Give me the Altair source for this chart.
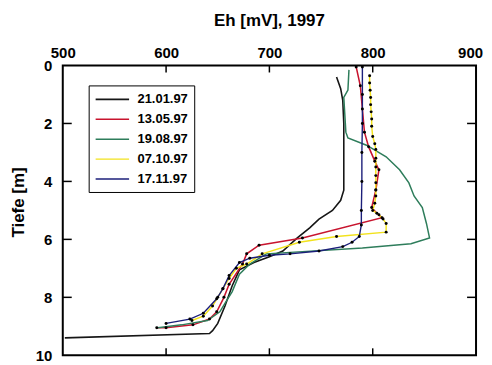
import altair as alt
import pandas as pd

# ---- data ----
dates = ["21.01.97", "13.05.97", "19.08.97", "07.10.97", "17.11.97"]
colors = ["#161616", "#c8142e", "#2e7d5b", "#f2e21c", "#1c1f7a"]
widths = [1.6, 1.4, 1.4, 3.0, 1.4]

x_ticks = [500, 600, 700, 800, 900]
y_ticks = [0, 2, 4, 6, 8, 10]
inner_x_ticks = [600, 700, 800]
inner_y_ticks = [2, 4, 6, 8]

black_depth = [0.4, 0.8, 1.2, 2.0, 3.0, 4.3, 4.65, 5.0, 5.3, 5.6, 5.95, 6.4, 6.6, 6.8, 7.05, 7.6, 8.3, 8.9, 9.15, 9.25, 9.4]
black_eh = [765, 769, 771, 772, 772, 772, 769, 761, 748, 739, 727, 713, 700, 685, 671, 664, 657, 650, 645, 642, 502]

red_depth = [0.05, 0.7, 1.5, 2.3, 2.8, 3.3, 3.6, 4.3, 4.9, 5.1, 5.25, 5.95, 6.2, 6.5, 6.85, 7.55, 8.0, 8.5, 8.75, 8.95, 9.05, 9.05]
red_eh = [784, 788, 790, 792, 796, 802, 806, 803, 799, 804, 809, 732, 690, 678, 674, 661, 656, 649, 642, 626, 600, 591]

green_depth = [0.15, 0.85, 1.1, 2.3, 2.5, 2.75, 3.15, 3.6, 4.05, 4.5, 4.9, 5.45, 5.95, 6.15, 6.3, 6.5, 6.85, 7.2, 7.8, 8.15, 8.5, 8.8, 8.95, 9.05]
green_eh = [777, 776, 772, 774, 776, 794, 813, 826, 835, 840, 848, 852, 855, 837, 790, 697, 681, 671, 664, 658, 652, 640, 615, 592]

yellow_depth = [0.35, 0.6, 0.85, 1.1, 1.35, 1.6, 1.85, 2.1, 2.45, 2.7, 2.9, 3.2, 3.5, 3.8, 4.05, 4.3, 4.5, 4.75, 5.0, 5.15, 5.3, 5.45, 5.75, 5.9, 6.1, 6.5, 6.85, 7.0, 7.35, 7.7, 8.0, 8.3, 8.65, 8.8]
yellow_eh = [797, 797, 797.5, 798, 798, 798.5, 799, 799, 800, 802, 803, 803, 803, 803, 803, 803, 803, 802, 800, 806, 810, 813, 813, 765, 729, 693, 678, 668, 661, 655, 650, 645, 636, 625]

navy_depth = [0.05, 1.0, 2.0, 3.0, 4.0, 5.0, 5.5, 5.9, 6.1, 6.25, 6.4, 6.5, 6.55, 6.65, 6.8, 7.25, 7.7, 8.05, 8.55, 8.75, 8.9]
navy_eh = [790, 790, 790, 789.5, 789.5, 789, 789, 787, 780, 771, 748, 720, 700, 681, 671, 661, 655, 649, 636, 623, 600]

dotted = ["13.05.97", "07.10.97", "17.11.97"]

series = [
    (dates[0], black_depth, black_eh),
    (dates[1], red_depth, red_eh),
    (dates[2], green_depth, green_eh),
    (dates[3], yellow_depth, yellow_eh),
    (dates[4], navy_depth, navy_eh),
]
rows = []
for name, ds, vs in series:
    for i, (d, v) in enumerate(zip(ds, vs)):
        rows.append({"date": name, "depth": d, "eh": v, "i": i})
df = pd.DataFrame(rows)

W, H = 415, 291
FONT = "Liberation Sans"

xscale = alt.Scale(domain=[500, 900], nice=False, zero=False)
yscale = alt.Scale(domain=[0, 10], reverse=True, nice=False, zero=False)

xaxis = alt.Axis(orient="top", values=x_ticks, title=None, ticks=False,
                 domain=False, grid=False, labelFontSize=15,
                 labelFontWeight="bold", labelFont=FONT, labelPadding=5,
                 labelFlush=False, labelColor="black", format="d",
                 labelOffset={"expr": "datum.value == 900 ? -6 : 0"})
yaxis = alt.Axis(orient="left", values=y_ticks, title="Tiefe [m]",
                 ticks=False, domain=False, grid=False, labelFontSize=15,
                 labelFontWeight="bold", labelFont=FONT, labelPadding=11,
                 labelFlush=False, labelColor="black", format="d",
                 titleFontSize=17, titleFont=FONT, titleFontWeight="bold",
                 titleColor="black", titleX=-35, titleY=137)

lines = alt.Chart(df).mark_line(clip=True).encode(
    x=alt.X("eh:Q", scale=xscale, axis=xaxis),
    y=alt.Y("depth:Q", scale=yscale, axis=yaxis),
    color=alt.Color("date:N", scale=alt.Scale(domain=dates, range=colors),
                    legend=alt.Legend(title=None, orient="none", legendX=26, legendY=20,
                                      strokeColor="black", fillColor="white",
                                      padding=6, labelFontSize=13,
                                      labelFontWeight="bold", labelFont=FONT,
                                      labelColor="black", columnPadding=0,
                                      symbolType="M-1,0H3.8", symbolSize=196,
                                      symbolStrokeWidth=1.6, rowPadding=5,
                                      labelOffset=27)),
    strokeWidth=alt.StrokeWidth("date:N", scale=alt.Scale(domain=dates, range=widths),
                                legend=None),
    order=alt.Order("i:Q"),
)

dots = alt.Chart(df).transform_filter(
    alt.FieldOneOfPredicate(field="date", oneOf=dotted)
).mark_circle(color="black", size=9, opacity=1).encode(
    x=alt.X("eh:Q", scale=xscale, axis=xaxis),
    y=alt.Y("depth:Q", scale=yscale, axis=yaxis),
)

xt = pd.DataFrame({"eh": inner_x_ticks})
yt = pd.DataFrame({"depth": inner_y_ticks})

top_ticks = alt.Chart(xt).mark_rule(color="black", strokeWidth=1.5).encode(
    x=alt.X("eh:Q", scale=xscale, axis=xaxis), y=alt.value(0), y2=alt.value(7))
bottom_ticks = alt.Chart(xt).mark_rule(color="black", strokeWidth=1.5).encode(
    x=alt.X("eh:Q", scale=xscale, axis=xaxis), y=alt.value(H - 7), y2=alt.value(H))
left_ticks = alt.Chart(yt).mark_rule(color="black", strokeWidth=1.5).encode(
    y=alt.Y("depth:Q", scale=yscale, axis=yaxis), x=alt.value(0), x2=alt.value(9))
right_ticks = alt.Chart(yt).mark_rule(color="black", strokeWidth=1.5).encode(
    y=alt.Y("depth:Q", scale=yscale, axis=yaxis), x=alt.value(W - 9), x2=alt.value(W))

chart = alt.layer(lines, dots, top_ticks, bottom_ticks, left_ticks, right_ticks).properties(
    width=W, height=H,
    background="white",
    title=alt.TitleParams("Eh [mV], 1997", fontSize=17, fontWeight="bold", font=FONT,
                          color="black", anchor="middle", offset=16),
    autosize=alt.AutoSizeParams(type="none"),
    padding={"left": 55, "top": 57, "right": 8, "bottom": 8},
).configure_view(stroke="black", strokeWidth=2)

chart.save("out.html", embed_options={"renderer": "svg", "actions": False})
